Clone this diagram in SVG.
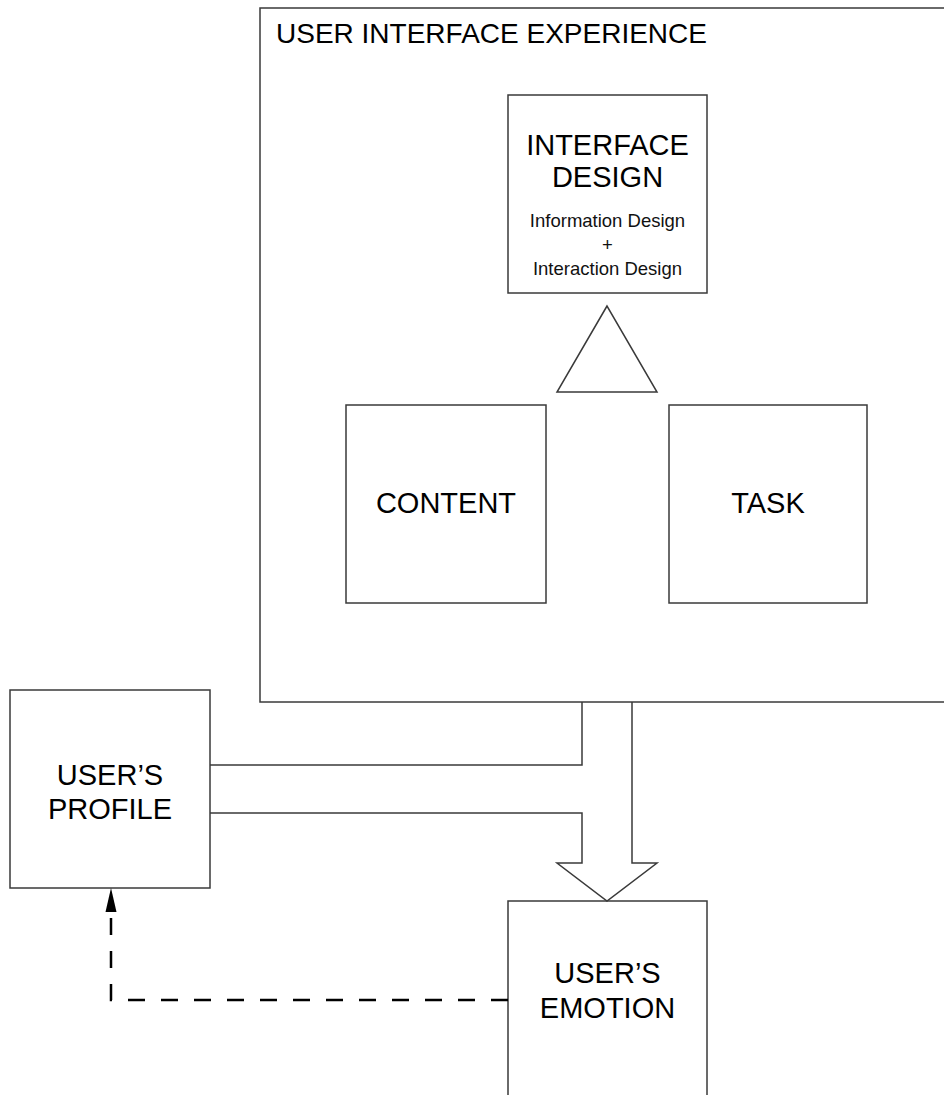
<svg xmlns="http://www.w3.org/2000/svg" width="944" height="1095" viewBox="0 0 944 1095">
  <defs>
    <style>
      .box { fill: #ffffff; stroke: #3a3a3a; stroke-width: 1.5; }
      .line { fill: none; stroke: #3a3a3a; stroke-width: 1.5; }
      .dash { fill: none; stroke: #000000; stroke-width: 2.5; stroke-dasharray: 17 16; }
      .t { font-family: "Liberation Sans", Arial, sans-serif; fill: #000000; text-anchor: middle; }
      .big { font-size: 29px; }
      .small { font-size: 18.5px; fill: #111111; }
    </style>
    <marker id="arr" viewBox="0 0 10 20" refX="5" refY="1" markerWidth="10" markerHeight="20" markerUnits="userSpaceOnUse" orient="auto-start-reverse">
      <path d="M0,0 L10,20 L0,20 Z" fill="#000"/>
    </marker>
  </defs>
  <rect width="944" height="1095" fill="#ffffff"/>

  <g id="user-interface-experience">
    <rect class="box" x="260" y="8" width="720" height="694"/>
    <text class="t" x="276" y="43" style="text-anchor:start;font-size:28px">USER INTERFACE EXPERIENCE</text>
  </g>

  <g id="interface-design">
    <rect class="box" x="508" y="95" width="199" height="198"/>
    <text class="t big" x="607.5" y="155">INTERFACE</text>
    <text class="t big" x="607.5" y="187">DESIGN</text>
    <text class="t small" x="607.5" y="227">Information Design</text>
    <text class="t small" x="607.5" y="251">+</text>
    <text class="t small" x="607.5" y="275">Interaction Design</text>
  </g>

  <g id="triangle">
    <polygon class="box" points="607,306 557,392 657,392"/>
  </g>

  <g id="content">
    <rect class="box" x="346" y="405" width="200" height="198"/>
    <text class="t big" x="446" y="513">CONTENT</text>
  </g>

  <g id="task">
    <rect class="box" x="669" y="405" width="198" height="198"/>
    <text class="t big" x="768" y="513">TASK</text>
  </g>

  <g id="users-profile">
    <rect class="box" x="10" y="690" width="200" height="198"/>
    <text class="t big" x="110" y="785">USER’S</text>
    <text class="t big" x="110" y="819">PROFILE</text>
  </g>

  <g id="users-emotion">
    <rect class="box" x="508" y="901" width="199" height="220"/>
    <text class="t big" x="607.5" y="983">USER’S</text>
    <text class="t big" x="607.5" y="1018">EMOTION</text>
  </g>

  <g id="connectors">
    <path class="line" d="M582,702 L582,765 L210,765"/>
    <path class="line" d="M210,813 L582,813 L582,863 L557,863 L607,901 L657,863 L632,863 L632,702"/>
    <path class="dash" d="M508,1000 L111,1000 L111,914"/>
    <polygon points="111,888 105.5,912 116.5,912" fill="#000"/>
  </g>
</svg>
